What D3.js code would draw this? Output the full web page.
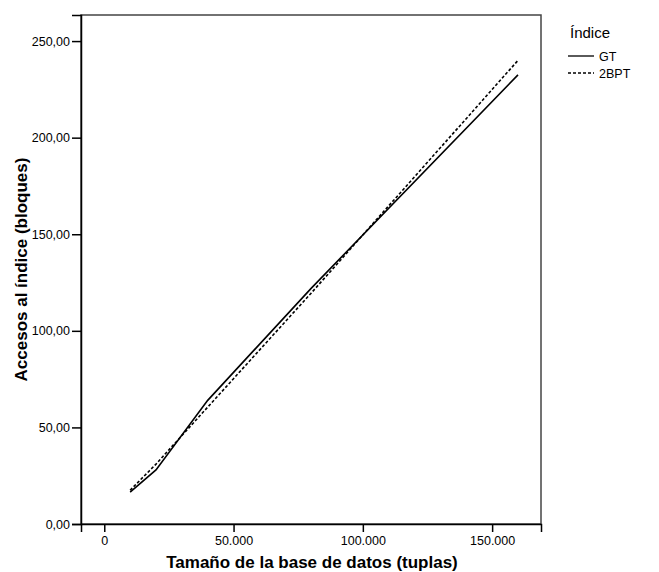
<!DOCTYPE html>
<html><head><meta charset="utf-8">
<script src="https://cdn.jsdelivr.net/npm/d3@7"></script>
<style>body{margin:0;background:#fff}svg{display:block;font-family:"Liberation Sans",Arial,sans-serif}</style>
</head><body>
<svg id="c" width="659" height="572"></svg>
<script>
const sizes = [10000, 20000, 40000, 80000, 160000];
const gtValues = [16.5, 28, 64, 122, 232.5];
const bptValues = [17.5, 31, 60.5, 119.5, 240];
const yTicks = [0, 50, 100, 150, 200, 250];
const xTicks = [0, 50000, 100000, 150000];
const seriesNames = ["GT", "2BPT"];

const svg = d3.select("#c");
const L = 81, R = 541, T = 15, B = 524;
const x = d3.scaleLinear().domain([-9000, 168900]).range([L, R]);
const y = d3.scaleLinear().domain([0, 263.5]).range([B, T]);
const loc = d3.formatLocale({decimal: ",", thousands: ".", grouping: [3], currency: ["", ""]});
const fx = loc.format(",d");
const fy = loc.format(".2f");

// frame
svg.append("rect").attr("x", L).attr("y", T).attr("width", R - L).attr("height", B - T)
  .attr("fill", "none").attr("stroke", "#444").attr("stroke-width", 1.5);

const yAxis = svg.append("g").attr("transform", `translate(${L},0)`)
  .call(d3.axisLeft(y).tickValues(yTicks).tickFormat(fy).tickSize(9).tickPadding(2));
const xAxis = svg.append("g").attr("transform", `translate(0,${B})`)
  .call(d3.axisBottom(x).tickValues(xTicks).tickFormat(fx).tickSize(8).tickPadding(4));
[yAxis, xAxis].forEach(a => {
  a.selectAll("path").attr("stroke", "#000").attr("stroke-width", 1.5);
  a.selectAll("line").attr("stroke", "#000").attr("stroke-width", 1.5);
  a.selectAll("text").attr("font-size", 12.5).attr("fill", "#000")
    .attr("font-family", "Liberation Sans, Arial, sans-serif");
});

const line = d3.line().x(d => x(d[0])).y(d => y(d[1]));
svg.append("path").datum(sizes.map((s, i) => [s, gtValues[i]]))
  .attr("d", line).attr("fill", "none").attr("stroke", "#000").attr("stroke-width", 1.6);
svg.append("path").datum(sizes.map((s, i) => [s, bptValues[i]]))
  .attr("d", line).attr("fill", "none").attr("stroke", "#000").attr("stroke-width", 1.6)
  .attr("stroke-dasharray", "3,2");

// titles
svg.append("text").attr("x", (L + R) / 2 + 1).attr("y", 568).attr("text-anchor", "middle")
  .attr("font-size", 17).attr("font-weight", "bold").text("Tamaño de la base de datos (tuplas)");
svg.append("text").attr("transform", `translate(27,${(T + B) / 2}) rotate(-90)`)
  .attr("text-anchor", "middle").attr("font-size", 17).attr("font-weight", "bold")
  .text("Accesos al índice (bloques)");

// legend
const lg = svg.append("g");
lg.append("text").attr("x", 570).attr("y", 38).attr("font-size", 15).text("Índice");
seriesNames.forEach((n, i) => {
  const yy = 56 + i * 17;
  lg.append("line").attr("x1", 568).attr("x2", 594).attr("y1", yy).attr("y2", yy)
    .attr("stroke", "#000").attr("stroke-width", 1.3)
    .attr("stroke-dasharray", i === 1 ? "3,2" : null);
  lg.append("text").attr("x", 599).attr("y", yy + 4.5).attr("font-size", 12.5).text(n);
});
</script>
</body></html>
